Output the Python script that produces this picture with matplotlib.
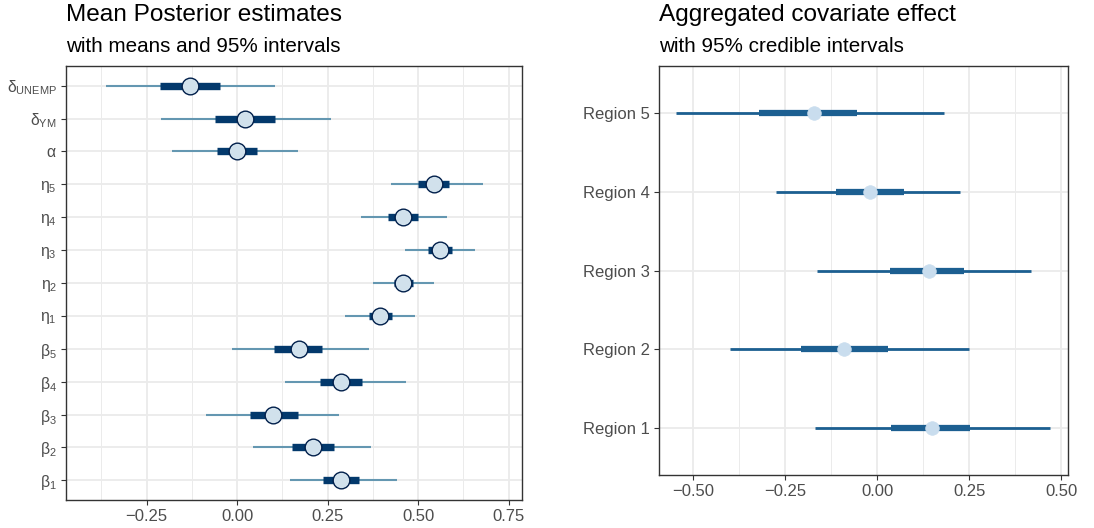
import matplotlib
matplotlib.use("Agg")
import matplotlib.pyplot as plt
import numpy as np

plt.rcParams['font.family'] = ['Liberation Sans', 'DejaVu Sans']
plt.rcParams['mathtext.fontset'] = 'custom'
plt.rcParams['mathtext.rm'] = 'Liberation Sans'
plt.rcParams['mathtext.it'] = 'Liberation Sans'
plt.rcParams['mathtext.bf'] = 'Liberation Sans:bold'
plt.rcParams['mathtext.default'] = 'regular'

# ---------------- Left panel data (bottom -> top) ----------------
param_labels = [r'$\beta_1$', r'$\beta_2$', r'$\beta_3$', r'$\beta_4$', r'$\beta_5$',
                r'$\eta_1$', r'$\eta_2$', r'$\eta_3$', r'$\eta_4$', r'$\eta_5$',
                r'$\alpha$', r'$\delta_{YM}$', r'$\delta_{UNEMP}$']
param_mean = [0.286, 0.209, 0.100, 0.286, 0.170, 0.395, 0.457, 0.561, 0.459, 0.544, -0.001, 0.021, -0.129]
param_ll = [0.145, 0.043, -0.087, 0.131, -0.014, 0.298, 0.374, 0.465, 0.342, 0.425, -0.180, -0.210, -0.363]
param_hh = [0.441, 0.369, 0.280, 0.466, 0.363, 0.492, 0.545, 0.657, 0.581, 0.678, 0.169, 0.258, 0.105]
param_l = [0.238, 0.151, 0.035, 0.229, 0.102, 0.363, 0.432, 0.526, 0.418, 0.501, -0.056, -0.061, -0.212]
param_h = [0.337, 0.267, 0.167, 0.344, 0.234, 0.429, 0.487, 0.593, 0.501, 0.586, 0.055, 0.105, -0.048]

# ---------------- Right panel data (bottom -> top) ----------------
regions = ['Region 1', 'Region 2', 'Region 3', 'Region 4', 'Region 5']
reg_mean = [0.149, -0.090, 0.140, -0.020, -0.173]
reg_ll = [-0.168, -0.399, -0.163, -0.274, -0.546]
reg_hh = [0.469, 0.249, 0.419, 0.224, 0.180]
reg_l = [0.038, -0.206, 0.035, -0.111, -0.322]
reg_h = [0.253, 0.029, 0.236, 0.073, -0.056]

left_ticks = [-0.25, 0.00, 0.25, 0.50, 0.75]
right_ticks = [-0.50, -0.25, 0.00, 0.25, 0.50]

W, H = 1094, 528
fig = plt.figure(figsize=(W / 100, H / 100), dpi=100)

def style_axes(ax, xticks, minor):
    ax.set_facecolor('white')
    for s in ax.spines.values():
        s.set_color('#333333')
        s.set_linewidth(1.0)
    ax.set_xticks(xticks)
    ax.set_xticklabels(['\u22120.%s' % f'{abs(t):.2f}'[2:] if t < 0 else f'{t:.2f}' for t in xticks])
    ax.set_xticks(minor, minor=True)
    ax.tick_params(axis='x', which='minor', length=0)
    ax.tick_params(axis='both', which='major', length=3.5, width=0.8, color='#333333',
                   labelcolor='#4d4d4d', labelsize=12, pad=3)
    ax.grid(True, which='major', color='#ebebeb', linewidth=1.3, zorder=0)
    ax.grid(True, which='minor', axis='x', color='#ebebeb', linewidth=0.7, zorder=0)
    ax.set_axisbelow(True)

# ---------------- Left axes ----------------
axL = fig.add_axes([66 / W, (H - 500) / H, (522 - 66) / W, (500 - 66) / H])
yL = np.arange(1, len(param_labels) + 1)
axL.hlines(yL, param_ll, param_hh, color='#6497b1', linewidth=1.5, zorder=2)
axL.hlines(yL, param_l, param_h, color='#03396c', linewidth=5.3, zorder=3)
axL.plot(param_mean, yL, 'o', markersize=12, markerfacecolor='#d1e1ec',
         markeredgecolor='#011f4b', markeredgewidth=1.0, zorder=4, linestyle='none')
axL.set_xlim(-0.473, 0.787)
axL.set_ylim(0.4, len(param_labels) + 0.6)
axL.set_yticks(yL)
axL.set_yticklabels(param_labels)
style_axes(axL, left_ticks, [-0.375, -0.125, 0.125, 0.375, 0.625])
axL.tick_params(axis='y', labelsize=11.3)

# ---------------- Right axes ----------------
axR = fig.add_axes([658.7 / W, (H - 475.3) / H, (1068.3 - 658.7) / W, (475.3 - 66) / H])
yR = np.arange(1, len(regions) + 1)
axR.hlines(yR, reg_ll, reg_hh, color='#1c5f91', linewidth=2.0, zorder=2)
axR.hlines(yR, reg_l, reg_h, color='#1c5f91', linewidth=4.5, zorder=3)
axR.plot(reg_mean, yR, 'o', markersize=9.8, markerfacecolor='#c9ddee',
         markeredgecolor='#c9ddee', markeredgewidth=0.5, zorder=4, linestyle='none')
axR.set_xlim(-0.594, 0.519)
axR.set_ylim(0.4, len(regions) + 0.6)
axR.set_yticks(yR)
axR.set_yticklabels(regions)
style_axes(axR, right_ticks, [-0.375, -0.125, 0.125, 0.375])

# ---------------- Titles ----------------
fig.text(66 / W, 1 - 20.7 / H, 'Mean Posterior estimates', fontsize=17.6, color='black',
         ha='left', va='baseline')
fig.text(66 / W, 1 - 51.7 / H, 'with means and 95% intervals', fontsize=14.9, color='black',
         ha='left', va='baseline')
fig.text(659 / W, 1 - 20.7 / H, 'Aggregated covariate effect', fontsize=17.6, color='black',
         ha='left', va='baseline')
fig.text(659 / W, 1 - 51.7 / H, 'with 95% credible intervals', fontsize=14.9, color='black',
         ha='left', va='baseline')

fig.savefig('out.png', dpi=100, facecolor='white')
